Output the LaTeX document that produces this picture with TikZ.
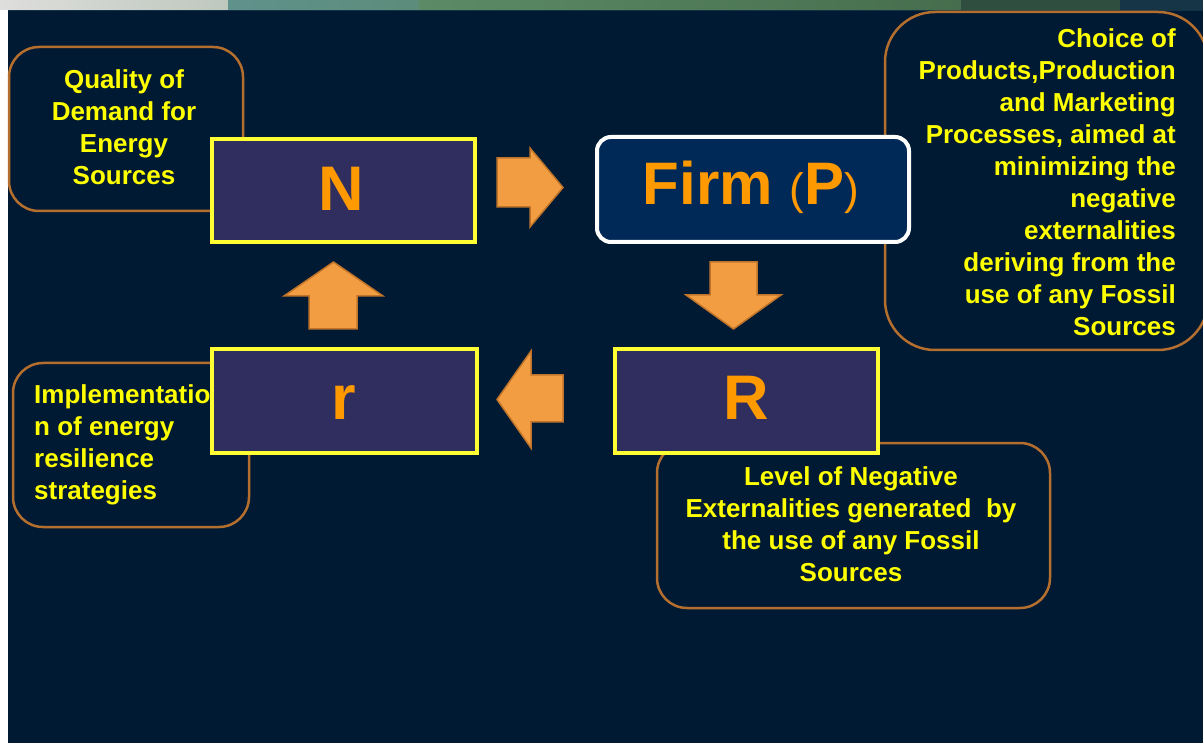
\documentclass[tikz,border=0pt]{standalone}
\usepackage{fontspec}
\setmainfont{Liberation Sans}
\definecolor{bg}{HTML}{001A33}
\definecolor{boxbrown}{RGB}{180,110,45}
\definecolor{letterfill}{RGB}{47,46,94}
\definecolor{ybord}{RGB}{255,255,51}
\definecolor{firmfill}{RGB}{0,41,87}
\definecolor{orangeL}{HTML}{FF9900}
\definecolor{arrfill}{RGB}{242,157,66}
\definecolor{arrdraw}{RGB}{192,116,42}
\definecolor{txty}{HTML}{FFFF00}
\definecolor{s1a}{RGB}{222,222,220}
\definecolor{s1b}{RGB}{190,200,190}
\definecolor{s2a}{RGB}{96,146,140}
\definecolor{s2b}{RGB}{92,140,122}
\definecolor{s3a}{RGB}{92,138,102}
\definecolor{s3b}{RGB}{70,110,78}
\definecolor{s4}{RGB}{48,78,64}
\definecolor{s5}{RGB}{22,54,72}
\definecolor{sline}{RGB}{20,50,70}
\tikzset{
  infobox/.style={draw=boxbrown, line width=2.5pt, rounded corners=#1, fill=bg, inner sep=0pt},
  infobox/.default=30pt,
  letterbox/.style={draw=ybord, line width=4pt, fill=letterfill, inner sep=0pt, minimum width=263pt, minimum height=103pt},
  firmbox/.style={draw=white, line width=4pt, fill=firmfill, rounded corners=14pt, inner sep=0pt},
  infotext/.style={text=txty, font=\fontsize{26}{32}\selectfont\bfseries, inner sep=0pt},
  bigletter/.style={text=orangeL, font=\fontsize{63}{63}\selectfont\bfseries, inner sep=0pt, anchor=base},
  blockarrow/.style={fill=arrfill, draw=arrdraw, line width=1.5pt, line join=miter}
}
\begin{document}
\begin{tikzpicture}[x=1pt,y=-1pt]
\useasboundingbox (0,0) rectangle (1203,743);
\fill[bg] (0,0) rectangle (1203,743);
\fill[white] (0,0) rectangle (8,743);
% top strip
\shade[left color=s1a, right color=s1b] (0,0) rectangle (228,10);
\shade[left color=s2a, right color=s2b] (228,0) rectangle (419,10);
\shade[left color=s3a, right color=s3b] (419,0) rectangle (961,10);
\fill[s4] (961,0) rectangle (1120,10);
\fill[s5] (1120,0) rectangle (1203,10);
\fill[sline] (8,10) rectangle (1203,11.5);

% right-hand info box and firm box
\node[infobox=50pt, minimum width=323pt, minimum height=338pt] (cbox) at (1046.5,181) {};
\node[infotext, align=right, anchor=east] (ctext) at (1176,182) {Choice of\\Products,Production\\and Marketing\\Processes, aimed at\\minimizing the\\negative\\externalities\\deriving from the\\use of any Fossil\\Sources};
\node[firmbox, minimum width=312pt, minimum height=105pt] (firm) at (753,189.5) {};
\node[text=orangeL, font=\fontsize{60}{60}\selectfont\bfseries, inner sep=0pt, anchor=base] (firmtext) at (751,205) {Firm {\fontsize{44}{44}\selectfont\mdseries(}P{\fontsize{44}{44}\selectfont\mdseries)}};

% quality box and N
\node[infobox, minimum width=234pt, minimum height=164pt] (qbox) at (126,129) {};
\node[infotext, align=center] (qtext) at (124,127) {Quality of\\Demand for\\Energy\\Sources};
\node[letterbox] (N) at (343.5,191) {};
\node[bigletter] (Nt) at (341,211) {N};

% implementation box and r
\node[infobox, minimum width=236pt, minimum height=164pt] (ibox) at (131,445) {};
\node[infotext, align=left, anchor=west] (itext) at (34,445) {Implementatio\\n of energy\\resilience\\strategies};
\node[letterbox, minimum width=265pt] (rr) at (344.5,401) {};
\node[bigletter] (rt) at (344,420) {r};

% level box and R
\node[infobox, minimum width=393pt, minimum height=165pt] (lbox) at (853.5,525.5) {};
\node[infotext, align=center] (ltext) at (851,524) {Level of Negative\\Externalities generated~ by\\the use of any Fossil\\Sources};
\node[letterbox] (R) at (746.5,401) {};
\node[bigletter] (Rt) at (746,420) {R};

% block arrows
\draw[blockarrow] (497,158) -- (530,158) -- (530,148) -- (563,187.5) -- (530,227) -- (530,207) -- (497,207) -- cycle;
\draw[blockarrow] (710,262) -- (757,262) -- (757,295) -- (781,295) -- (733.5,329) -- (686,295) -- (710,295) -- cycle;
\draw[blockarrow] (309,329) -- (309,296) -- (284,296) -- (333.5,262) -- (383,296) -- (357,296) -- (357,329) -- cycle;
\draw[blockarrow] (563,375) -- (531,375) -- (531,351) -- (497,399.5) -- (531,448) -- (531,422) -- (563,422) -- cycle;
\end{tikzpicture}
\end{document}
